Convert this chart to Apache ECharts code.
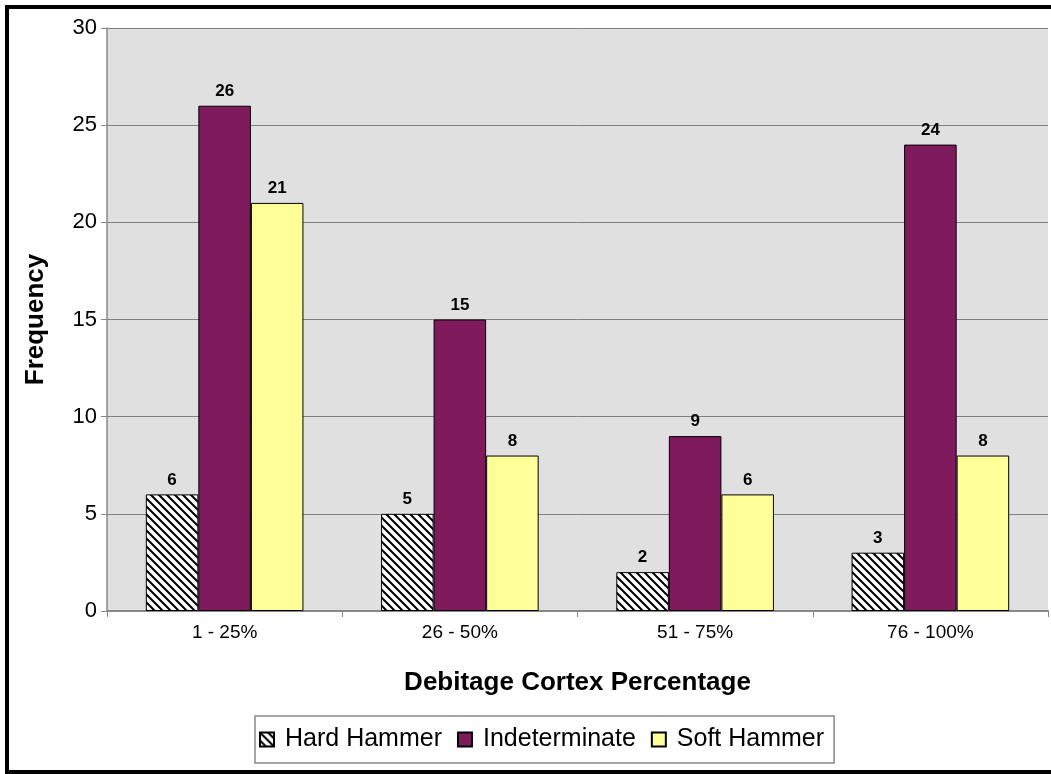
<!DOCTYPE html>
<html>
<head>
	<meta charset="UTF-8">
	<title>debitage cortex</title>
	<style>
		html,body{margin:0;padding:0;background:#fff;}
		#frame{position:absolute;left:5px;top:5px;width:1046px;height:769px;box-sizing:border-box;border-left:4px solid #000;border-top:4px solid #000;border-bottom:4px solid #000;}
		#mychart{position:absolute;left:0;top:0;width:1051px;height:774px;}
	</style>
</head>
<body>
	<div id="frame"></div>
	<div id="mychart"></div>
<script type="text/javascript" src="https://cdn.jsdelivr.net/npm/echarts@6/dist/echarts.min.js"></script>
<script type="text/javascript">
	var categories = ['1 - 25%','26 - 50%','51 - 75%','76 - 100%'];
	var hardHammer = [6,5,2,3];
	var indeterminate = [26,15,9,24];
	var softHammer = [21,8,6,8];

	// 斜线填充
	function hatch(){
		var c = document.createElement('canvas');
		c.width = 8; c.height = 8;
		var ctx = c.getContext('2d');
		ctx.fillStyle = '#fff';
		ctx.fillRect(0,0,8,8);
		ctx.strokeStyle = '#000';
		ctx.lineWidth = 2;
		ctx.beginPath();
		ctx.moveTo(-2,-2); ctx.lineTo(10,10);
		ctx.moveTo(-2,6); ctx.lineTo(2,10);
		ctx.moveTo(6,-2); ctx.lineTo(10,2);
		ctx.stroke();
		return {image:c, repeat:'repeat'};
	}

	var myChart = echarts.init(document.getElementById('mychart'));
	var lbl = {show:true, position:'top', color:'#000', fontWeight:'bold', fontSize:17, fontFamily:'Liberation Sans', distance:6};
	var option = {
		animation:false,
		textStyle:{fontFamily:'Liberation Sans'},
		grid:{left:107, right:3, top:28, bottom:163, show:true, backgroundColor:'#e0e0e0', borderWidth:0},
		legend:{
			top:716, left:255,
			icon:'rect',
			data:['Hard Hammer','Indeterminate','Soft Hammer'],
			backgroundColor:'#fff', borderColor:'#888', borderWidth:1.5, borderRadius:0,
			padding:[11,10,11,4], itemGap:15, itemWidth:14, itemHeight:14,
			textStyle:{fontSize:25, color:'#000', fontFamily:'Liberation Sans', padding:[0,0,0,6]}
		},
		xAxis:{
			type:'category', data:categories,
			name:'Debitage Cortex Percentage', nameLocation:'middle', nameGap:59,
			nameTextStyle:{fontSize:26, fontWeight:'bold', color:'#000'},
			axisLine:{lineStyle:{color:'#888', width:2}},
			axisTick:{show:true, length:6, lineStyle:{color:'#888'}},
			axisLabel:{fontSize:19, color:'#000', margin:12}
		},
		yAxis:{
			type:'value', min:0, max:30, interval:5,
			name:'Frequency', nameLocation:'middle', nameGap:58,
			nameTextStyle:{fontSize:26, fontWeight:'bold', color:'#000'},
			axisLine:{show:true, lineStyle:{color:'#888', width:1.5}},
			axisTick:{show:true, length:6, lineStyle:{color:'#888'}},
			axisLabel:{fontSize:22, color:'#000', margin:10},
			splitLine:{lineStyle:{color:'#808080', width:1}}
		},
		series:[
			{name:'Hard Hammer', type:'bar', data:hardHammer, barGap:'0%', barCategoryGap:'33%',
				itemStyle:{color:hatch(), borderColor:'#000', borderWidth:1}, label:lbl},
			{name:'Indeterminate', type:'bar', data:indeterminate,
				itemStyle:{color:'#7f1a5c', borderColor:'#000', borderWidth:1}, label:lbl},
			{name:'Soft Hammer', type:'bar', data:softHammer,
				itemStyle:{color:'#ffff99', borderColor:'#000', borderWidth:1}, label:lbl}
		]
	};
	myChart.setOption(option);
</script>
</body>
</html>
